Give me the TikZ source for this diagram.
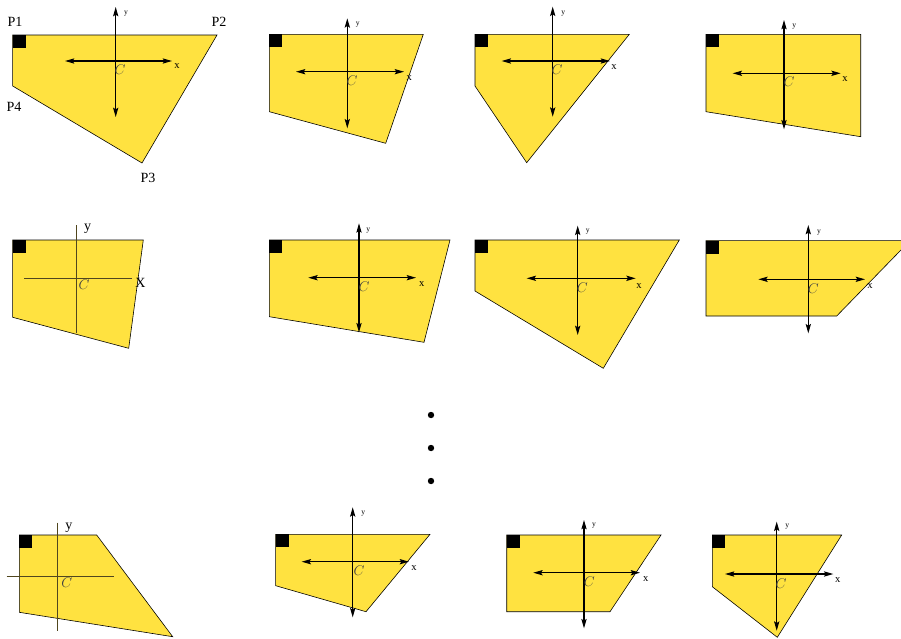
\documentclass[tikz,border=0pt]{standalone}
\usepackage{fontspec}
\setmainfont{Liberation Serif}
\usetikzlibrary{arrows.meta}
\definecolor{plate}{RGB}{255,226,64}
\definecolor{dimaxis}{RGB}{80,70,30}

\begin{document}
\begin{tikzpicture}[x=0.03cm, y=-0.03cm,
        quad/.style={fill=plate, draw=black, line width=.5pt, line join=miter},
        corner/.style={fill=black},
        ax/.style={line width=.9pt, {Stealth[length=8pt,width=4.5pt,inset=1.5pt]}-{Stealth[length=8pt,width=4.5pt,inset=1.5pt]}},
        axd/.style={draw=dimaxis, line width=.8pt},
        ylab/.style={font=\fontsize{6.5}{7}\selectfont, inner sep=0pt},
        xlab/.style={font=\fontsize{9}{10}\selectfont, inner sep=0pt},
        big/.style={font=\fontsize{12}{14}\selectfont, inner sep=0pt},
        cen/.style={text=black!75, font=\fontsize{13}{14}\selectfont, inner sep=0pt}]

      \useasboundingbox (0,0) rectangle (901,638);
      \clip (0,0) rectangle (901,638);

      % r1c1: named corners
      \fill[quad] (12.7,35) -- (217,35) -- (142,163) -- (12.7,86) -- cycle;
      \fill[corner] (12.7,35) rectangle ++(13,13);
      \draw[ax] (65,61) -- (172,61);
      \draw[ax] (115.7,7) -- (115.7,117);
      \node[ylab] (ya) at (126,14) {y};
      \node[xlab] (xa) at (177,66) {x};
      \node[cen] (ca) at (120,70) {$C$};
      \node[big] (p1) at (15,22) {P1};
      \node[big] (p2) at (219,22) {P2};
      \node[big] (p3) at (148,178) {P3};
      \node[big] (p4) at (14,107) {P4};

      % r1c2
      \fill[quad] (269.3,34.3) -- (423.3,34.3) -- (385.7,143.3) -- (269.3,111.7) -- cycle;
      \fill[corner] (269.3,34.3) rectangle ++(13,13);
      \draw[ax] (296,71.7) -- (404,71.7);
      \draw[ax] (347.3,18.3) -- (347.3,128.3);
      \node[ylab] (yb) at (357.7,25) {y};
      \node[xlab] (xb) at (409.3,78) {x};
      \node[cen] (cb) at (352,81) {$C$};

      % r1c3
      \fill[quad] (475,34.3) -- (629.3,34.3) -- (526.7,162.7) -- (475,86) -- cycle;
      \fill[corner] (475,34.3) rectangle ++(13,13);
      \draw[ax] (501.7,61) -- (610,61);
      \draw[ax] (552.7,6.7) -- (552.7,116.7);
      \node[ylab] (yc) at (563.3,14) {y};
      \node[xlab] (xc) at (614,66.7) {x};
      \node[cen] (cc) at (557,70) {$C$};

      % r1c4
      \fill[quad] (706,34.3) -- (860.7,34.3) -- (860.7,136.7) -- (706,111.7) -- cycle;
      \fill[corner] (706,34.3) rectangle ++(13,13);
      \draw[ax] (732.7,73.3) -- (840.7,73.3);
      \draw[ax] (784,20) -- (784,129.3);
      \node[ylab] (yd) at (794.3,26.7) {y};
      \node[xlab] (xd) at (845,79.5) {x};
      \node[cen] (cd) at (789,82) {$C$};

      % r2c1: plain axes
      \fill[quad] (12.7,240) -- (143.3,240) -- (128.7,348.3) -- (12.7,317.3) -- cycle;
      \fill[corner] (12.7,240) rectangle ++(13,13);
      \draw[axd] (24.3,278.3) -- (132.3,278.3);
      \draw[axd] (76,225) -- (76,333.3);
      \node[big] (ye) at (87.7,229) {y};
      \node[big] (xe) at (140.5,282.5) {X};
      \node[cen] (ce) at (84,285) {$C$};

      % r2c2
      \fill[quad] (269.3,240) -- (450,240) -- (424,342.3) -- (269.3,316.7) -- cycle;
      \fill[corner] (269.3,240) rectangle ++(13,13);
      \draw[ax] (308.3,277.7) -- (416,277.7);
      \draw[ax] (359,223.3) -- (359,332.3);
      \node[ylab] (yf) at (368.3,230.7) {y};
      \node[xlab] (xf) at (421.7,284.3) {x};
      \node[cen] (cf) at (364,286.7) {$C$};

      % r2c3
      \fill[quad] (475,240) -- (679.3,240) -- (603.3,368.3) -- (475,291) -- cycle;
      \fill[corner] (475,240) rectangle ++(13,13);
      \draw[ax] (526.7,278.3) -- (635.7,278.3);
      \draw[ax] (577.7,225.7) -- (577.7,335);
      \node[ylab] (yg) at (587.7,231.7) {y};
      \node[xlab] (xg) at (639,285.7) {x};
      \node[cen] (cg) at (582.3,287.7) {$C$};

      % r2c4: runs past the right edge
      \fill[quad] (706,240.7) -- (910,240.7) -- (836.7,316) -- (706,316) -- cycle;
      \fill[corner] (706,240.7) rectangle ++(13,13);
      \draw[ax] (758.3,279.3) -- (865,279.3);
      \draw[ax] (808.3,225) -- (808.3,333.3);
      \node[ylab] (yh) at (819,232.3) {y};
      \node[xlab] (xh) at (870,286) {x};
      \node[cen] (ch) at (813.3,288.3) {$C$};

      % dots
      \foreach \k/\yy in {1/415,2/448,3/481}
        \fill (431,\yy) circle (3.2);

      % r3c1: plain axes
      \fill[quad] (19.3,535) -- (96.7,535) -- (172.7,636.7) -- (19.3,612.3) -- cycle;
      \fill[corner] (19.3,535) rectangle ++(13,13);
      \draw[axd] (6.7,576) -- (114,576);
      \draw[axd] (57.7,522.7) -- (57.7,631);
      \node[big] (yi) at (69,527.5) {y};
      \node[cen] (ci) at (66.7,582.7) {$C$};

      % r3c2
      \fill[quad] (275.7,534.3) -- (430,534.3) -- (366,611.7) -- (275.7,585.7) -- cycle;
      \fill[corner] (275.7,534.3) rectangle ++(13,13);
      \draw[ax] (301.7,561.7) -- (409,561.7);
      \draw[ax] (352.7,507.3) -- (352.7,617.3);
      \node[ylab] (yj) at (363.3,514) {y};
      \node[xlab] (xj) at (414,568.3) {x};
      \node[cen] (cj) at (359,570.7) {$C$};

      % r3c3
      \fill[quad] (506.7,535) -- (661,535) -- (610,611.7) -- (506.7,611.7) -- cycle;
      \fill[corner] (506.7,535) rectangle ++(13,13);
      \draw[ax] (533.3,572.7) -- (640,572.7);
      \draw[ax] (584,520) -- (584,628.3);
      \node[ylab] (yk) at (594,525.7) {y};
      \node[xlab] (xk) at (645.7,579) {x};
      \node[cen] (ck) at (589.3,581.7) {$C$};

      % r3c4
      \fill[quad] (712.3,535) -- (841.7,535) -- (777.3,637.3) -- (712.3,586.7) -- cycle;
      \fill[corner] (712.3,535) rectangle ++(13,13);
      \draw[ax] (725,574) -- (833.3,574);
      \draw[ax] (776.7,521.7) -- (776.7,630.7);
      \node[ylab] (yl) at (787.3,526.7) {y};
      \node[xlab] (xl) at (837.7,580.5) {x};
      \node[cen] (cl) at (781,584) {$C$};
    \end{tikzpicture}
\end{document}
